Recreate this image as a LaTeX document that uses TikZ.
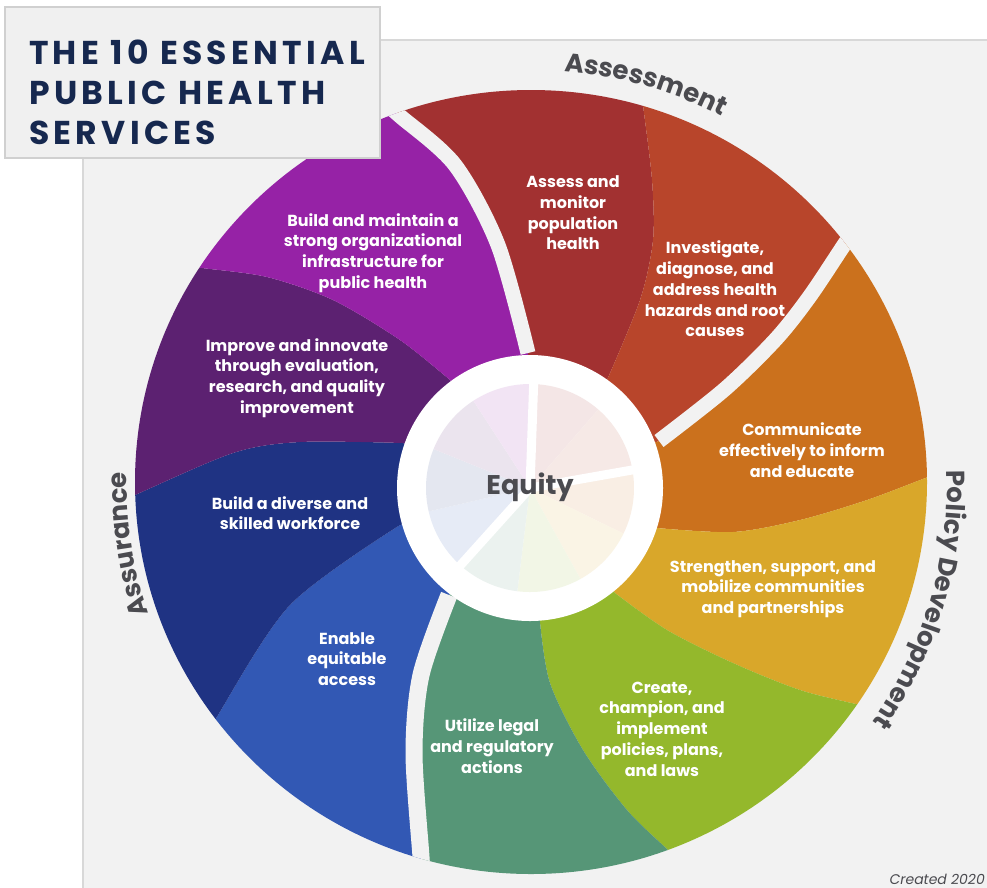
\documentclass[tikz,border=0pt]{standalone}
\usepackage{fontspec}
\setmainfont{Poppins}
\newfontfamily\titlefont{Poppins}[LetterSpace=13]
\usetikzlibrary{decorations.text}

\definecolor{panel}{HTML}{F2F2F2}
\definecolor{panelline}{HTML}{D8D8D8}
\definecolor{titlebox}{HTML}{F0F0F0}
\definecolor{titleline}{HTML}{D0D0D0}
\definecolor{navy}{HTML}{16284F}
\definecolor{labelgray}{HTML}{4B4B50}
\definecolor{segA}{HTML}{A23131}
\definecolor{segB}{HTML}{B8452B}
\definecolor{segC}{HTML}{CB711D}
\definecolor{segD}{HTML}{D9A72A}
\definecolor{segE}{HTML}{94B82C}
\definecolor{segF}{HTML}{569677}
\definecolor{segG}{HTML}{3258B4}
\definecolor{segH}{HTML}{1F3383}
\definecolor{segI}{HTML}{5C2171}
\definecolor{segJ}{HTML}{9622A6}

\newcommand{\sectfont}{\bfseries\fontsize{26}{30}\selectfont}

\begin{document}
\begin{tikzpicture}[x=1pt, y=-1pt,
		seglabel/.style={text=white, align=center, font=\bfseries\fontsize{16}{20.7}\selectfont},
		gap/.style={draw=panel, line width=15pt},
		pale/.style={fill=#1!12!white},
		sectlabel/.style={decorate, decoration={text along path, text align=center, text color=labelgray, text={|\sectfont|#1}}}
		]
		
		\useasboundingbox (0,0) rectangle (987,887);
		
		% Background panel
		\fill[panel, draw=panelline, line width=1.5pt] (83,40) rectangle (1000,900);
		
		\coordinate (C) at (530,488);
		
		% Outer wheel
		\begin{scope}
			\clip (531,482) ellipse [x radius=396, y radius=392];
			\fill[segA] (C) -- plot[smooth] coordinates {(528,353) (498,245) (455,165) (400,116) (385,103)} -- (368,23) -- (671,9) -- plot[smooth] coordinates {(641,85) (643,105) (652,180) (653,240) (640,300) (607,380)} -- cycle;
			\fill[segB] (C) -- plot[smooth] coordinates {(607,380) (640,300) (653,240) (652,180) (643,105) (641,85)} -- (671,9) -- (922,186) -- plot[smooth] coordinates {(858,226) (846,242) (810,296) (776,339) (725,389) (659,441)} -- cycle;
			\fill[segC] (C) -- plot[smooth] coordinates {(659,441) (725,389) (776,339) (810,296) (846,242) (858,226)} -- (922,186) -- (1027,475) -- plot[smooth] coordinates {(947,470) (928,477) (867,500) (800,520) (733,532) (657,528)} -- cycle;
			\fill[segD] (C) -- plot[smooth] coordinates {(657,528) (733,532) (800,520) (867,500) (928,477) (947,470)} -- (1027,475) -- (942,760) -- plot[smooth] coordinates {(879,710) (860,705) (800,690) (733,663) (667,630) (615,593)} -- cycle;
			\fill[segE] (C) -- plot[smooth] coordinates {(615,593) (667,630) (733,663) (800,690) (860,705) (879,710)} -- (942,760) -- (702,941) -- plot[smooth] coordinates {(682,864) (668,850) (627,810) (583,750) (550,683) (540,622)} -- cycle;
			\fill[segF] (C) -- plot[smooth] coordinates {(540,622) (550,683) (583,750) (627,810) (668,850) (682,864)} -- (702,941) -- (394,950) -- plot[smooth] coordinates {(422,877) (421,857) (414,753) (421,675) (449,595)} -- cycle;
			\fill[segG] (C) -- plot[smooth] coordinates {(449,595) (421,675) (414,753) (421,857) (422,877)} -- (394,950) -- (136,778) -- plot[smooth] coordinates {(205,738) (215,720) (290,605) (400,525)} -- cycle;
			\fill[segH] (C) -- plot[smooth] coordinates {(400,525) (290,605) (215,720) (205,738)} -- (136,778) -- (36,497) -- plot[smooth] coordinates {(117,503) (135,495) (233,453) (300,442) (403,443)} -- cycle;
			\fill[segI] (C) -- plot[smooth] coordinates {(403,443) (300,442) (233,453) (135,495) (117,503)} -- (36,497) -- (120,213) -- plot[smooth] coordinates {(182,265) (202,268) (267,277) (333,300) (400,340) (450,380)} -- cycle;
			\fill[segJ] (C) -- plot[smooth] coordinates {(450,380) (400,340) (333,300) (267,277) (202,268) (182,265)} -- (120,213) -- (368,23) -- plot[smooth] coordinates {(385,103) (400,116) (455,165) (498,245) (528,353)} -- cycle;
			
			% Gaps between the three groups
			\draw[gap] plot[smooth] coordinates {(528,353) (498,245) (455,165) (400,116) (385,103)};
			\draw[gap] plot[smooth] coordinates {(659,441) (725,389) (776,339) (810,296) (846,242) (858,226)};
			\draw[gap, line width=17pt] plot[smooth] coordinates {(449,595) (421,675) (414,753) (421,857) (422,877)};
		\end{scope}
		
		% Equity hub
		\fill[white] (C) circle[radius=133];
		\foreach \c/\a/\b in {segA/-88/-49, segB/-49/-10, segC/-10/26, segD/26/61, segE/61/97, segF/97/132, segG/132/167, segH/167/202, segI/202/237, segJ/237/272}
		\fill[pale=\c] (C) -- ++(\a:104) arc[start angle=\a, end angle=\b, radius=104] -- cycle;
		\foreach \a in {-88,-10,132}
		\draw[white, line width=9pt] (C) -- ++(\a:106);
		\node[text=labelgray, font=\bfseries\fontsize{27}{30}\selectfont] (equity) at (530,487) {Equity};
		
		% Service labels
		\node[seglabel] (assess) at (573,213) {Assess and\\monitor\\population\\health};
		\node[seglabel] (investigate) at (715,289) {Investigate,\\diagnose, and\\address health\\hazards and root\\causes};
		\node[seglabel] (communicate) at (802,450) {Communicate\\effectively to inform\\and educate};
		\node[seglabel] (strengthen) at (773,589) {Strengthen, support, and\\mobilize communities\\and partnerships};
		\node[seglabel] (create) at (662,729) {Create,\\champion, and\\implement\\policies, plans,\\and laws};
		\node[seglabel] (utilize) at (492,746) {Utilize legal\\and regulatory\\actions};
		\node[seglabel] (enable) at (347,659) {Enable\\equitable\\access};
		\node[seglabel] (workforce) at (290,513) {Build a diverse and\\skilled workforce};
		\node[seglabel] (improve) at (297,378) {Improve and innovate\\through evaluation,\\research, and quality\\improvement};
		\node[seglabel] (infra) at (373,253) {Build and maintain a\\strong organizational\\infrastructure for\\public health};
		
		% Group labels round the wheel
		\path[shift={(531,484)}, sectlabel=Assessment] (-100:414) arc[start angle=-100, end angle=-48, radius=414];
		\path[shift={(531,484)}, sectlabel=Policy Development] (-19:416) arc[start angle=-19, end angle=52, radius=416];
		\path[shift={(531,484)}, sectlabel=Assurance] (-215:404) arc[start angle=-215, end angle=-162, radius=404];
		
		% Title
		\draw[fill=titlebox, draw=titleline, line width=2pt] (5,7) rectangle (380,158);
		\node[anchor=north west, inner sep=0pt, align=left, text=navy, font=\titlefont\bfseries\fontsize{33}{40}\selectfont] (title) at (29,40) {THE 10 ESSENTIAL\\PUBLIC HEALTH\\SERVICES};
		
		\node[anchor=base east, inner sep=0pt, text=labelgray, font=\itshape\fontsize{14}{16}\selectfont] (created) at (985,884) {Created 2020};
		
	\end{tikzpicture}
\end{document}
